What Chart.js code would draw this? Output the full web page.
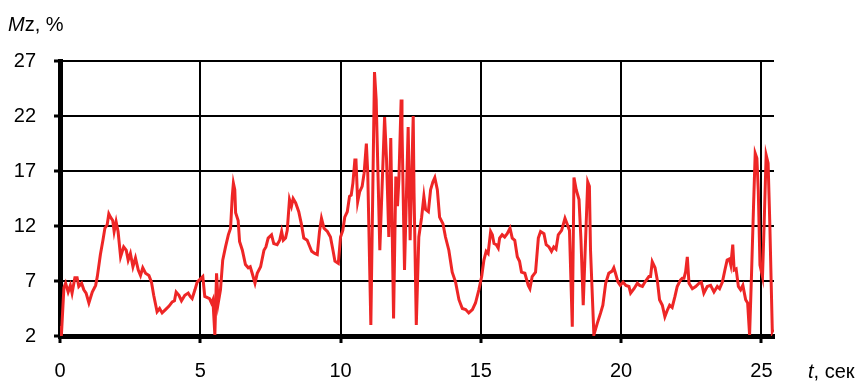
<!DOCTYPE html>
<html>
<head>
<meta charset="utf-8">
<title>Mz, %</title>
<script src="https://cdn.jsdelivr.net/npm/chart.js@4/dist/chart.umd.min.js"></script>
<style>
  html, body { margin: 0; padding: 0; background: #ffffff; }
  #wrap { position: relative; width: 863px; height: 381px; }
</style>
</head>
<body>
<div id="wrap"><canvas id="chart" width="863" height="381"></canvas></div>
<script>
// Time, seconds
const timeSec = [
  0.00, 0.05, 0.14, 0.20, 0.29, 0.37, 0.43, 0.53, 0.61, 0.67, 0.77, 0.85, 0.93, 1.03, 1.15, 1.27, 1.33, 1.44, 1.53, 1.60,
  1.68, 1.74, 1.80, 1.88, 1.93, 2.00, 2.07, 2.16, 2.27, 2.36, 2.43, 2.51, 2.60, 2.69, 2.79, 2.87, 2.95, 3.05, 3.17, 3.26,
  3.34, 3.46, 3.55, 3.64, 3.76, 3.88, 4.00, 4.08, 4.14, 4.24, 4.33, 4.45, 4.57, 4.64, 4.71, 4.81, 4.89, 4.97, 5.09, 5.16,
  5.33, 5.40, 5.45, 5.52, 5.58, 5.64, 5.72, 5.80, 5.90, 6.00, 6.08, 6.14, 6.18, 6.23, 6.26, 6.35, 6.40, 6.50, 6.61, 6.71,
  6.78, 6.85, 6.95, 7.03, 7.15, 7.27, 7.34, 7.42, 7.54, 7.62, 7.74, 7.83, 7.90, 7.96, 8.04, 8.10, 8.18, 8.25, 8.31, 8.40,
  8.51, 8.61, 8.69, 8.81, 8.89, 8.97, 9.08, 9.17, 9.25, 9.32, 9.41, 9.53, 9.64, 9.73, 9.80, 9.92, 10.00, 10.08, 10.15, 10.24,
  10.32, 10.38, 10.44, 10.51, 10.55, 10.61, 10.68, 10.77, 10.84, 10.92, 10.97, 11.08, 11.21, 11.27, 11.40, 11.57, 11.64, 11.72, 11.79, 11.89,
  11.97, 12.03, 12.08, 12.16, 12.19, 12.28, 12.41, 12.48, 12.59, 12.62, 12.70, 12.79, 12.89, 12.97, 13.03, 13.13, 13.21, 13.29, 13.36, 13.45,
  13.53, 13.65, 13.74, 13.86, 13.98, 14.10, 14.22, 14.34, 14.46, 14.57, 14.70, 14.81, 14.93, 15.03, 15.11, 15.19, 15.26, 15.35, 15.41, 15.47,
  15.55, 15.62, 15.67, 15.76, 15.85, 15.94, 16.04, 16.12, 16.21, 16.30, 16.38, 16.45, 16.57, 16.69, 16.75, 16.83, 16.95, 17.05, 17.13, 17.25,
  17.33, 17.43, 17.52, 17.60, 17.68, 17.76, 17.88, 18.00, 18.09, 18.16, 18.26, 18.32, 18.40, 18.50, 18.57, 18.65, 18.72, 18.81, 18.87, 18.91,
  19.03, 19.15, 19.27, 19.35, 19.45, 19.56, 19.68, 19.74, 19.80, 19.89, 19.97, 20.07, 20.17, 20.28, 20.34, 20.46, 20.58, 20.66, 20.76, 20.85,
  20.99, 21.05, 21.11, 21.21, 21.29, 21.37, 21.47, 21.56, 21.64, 21.73, 21.82, 21.92, 22.00, 22.12, 22.18, 22.24, 22.30, 22.36, 22.42, 22.54,
  22.66, 22.78, 22.86, 22.95, 23.07, 23.19, 23.31, 23.43, 23.51, 23.61, 23.70, 23.78, 23.86, 23.91, 23.98, 24.03, 24.10, 24.18, 24.26, 24.34,
  24.44, 24.51, 24.58, 24.65, 24.72, 24.78, 24.84, 24.89, 24.95, 25.04, 25.10, 25.17, 25.24, 25.30, 25.39, 25.43
];

// Mz, %
const mzPercent = [
  2.9, 2.1, 6.4, 6.8, 6.0, 6.6, 5.9, 7.3, 7.3, 6.5, 6.8, 6.2, 5.9, 5.0, 6.0, 6.6, 7.4, 9.4, 10.7, 11.8,
  12.1, 13.1, 12.8, 12.5, 11.5, 12.4, 11.5, 9.2, 10.1, 9.8, 8.9, 9.5, 8.3, 9.1, 8.0, 7.5, 8.2, 7.7, 7.5, 6.9,
  5.7, 4.2, 4.5, 4.1, 4.4, 4.7, 5.1, 5.2, 6.0, 5.7, 5.2, 5.7, 5.9, 5.6, 5.4, 6.2, 6.9, 7.1, 7.4, 5.6,
  5.4, 5.0, 5.3, 2.1, 7.7, 5.0, 6.2, 8.9, 10.1, 11.2, 11.8, 14.7, 15.9, 15.3, 13.2, 12.5, 10.6, 9.8, 8.5, 8.2,
  8.3, 7.7, 6.8, 7.7, 8.3, 9.8, 10.1, 10.9, 11.2, 10.4, 10.3, 10.7, 11.5, 10.7, 10.9, 11.6, 14.4, 13.8, 14.5, 14.1,
  13.3, 12.1, 10.9, 10.7, 10.2, 9.7, 9.5, 9.4, 11.5, 12.7, 11.8, 11.5, 11.0, 9.8, 8.8, 8.6, 11.0, 11.6, 12.8, 13.3,
  14.7, 14.8, 15.9, 18.0, 18.0, 14.2, 15.1, 15.6, 16.8, 19.5, 16.8, 3.0, 26.0, 23.5, 9.8, 21.9, 18.0, 11.0, 20.0, 3.6,
  16.5, 13.8, 16.3, 23.5, 21.0, 8.0, 21.0, 10.7, 22.0, 15.0, 3.0, 11.0, 12.8, 14.7, 13.5, 13.3, 15.3, 16.0, 16.4, 15.3,
  12.8, 12.2, 11.0, 9.8, 7.8, 6.9, 5.3, 4.5, 4.4, 4.1, 4.4, 5.0, 6.2, 7.4, 8.9, 9.7, 9.5, 11.5, 11.2, 10.4,
  10.3, 10.0, 10.9, 11.2, 11.0, 11.3, 11.8, 10.9, 10.7, 9.2, 8.8, 7.8, 7.7, 6.6, 6.3, 7.4, 7.8, 10.9, 11.5, 11.3,
  10.3, 10.1, 9.7, 10.1, 9.9, 11.2, 11.6, 12.7, 12.1, 11.6, 2.85, 16.4, 15.3, 14.4, 10.7, 4.8, 9.8, 16.0, 15.6, 9.8,
  2.1, 3.15, 4.1, 4.8, 6.8, 7.7, 7.9, 8.2, 7.7, 6.9, 6.6, 6.9, 6.6, 6.5, 5.9, 6.3, 6.8, 6.6, 6.5, 6.9,
  7.4, 7.4, 8.75, 8.2, 7.1, 5.3, 4.8, 3.75, 4.3, 4.8, 4.6, 5.6, 6.5, 7.1, 7.25, 7.25, 7.85, 9.2, 6.8, 6.3,
  6.5, 6.8, 6.9, 5.9, 6.5, 6.6, 6.0, 6.5, 6.3, 6.9, 8.0, 8.9, 9.0, 8.45, 10.3, 8.0, 8.1, 6.5, 6.2, 6.6,
  5.3, 5.0, 2.1, 7.7, 13.75, 18.6, 18.15, 15.2, 8.45, 7.4, 12.3, 18.45, 17.7, 12.3, 2.4, 2.6
];

// Axis ranges and tick labels
const xRange = [0, 25.45];
const xTickValues = [0, 5, 10, 15, 20, 25];
const yTickValues = [2, 7, 12, 17, 22, 27];

const FONT = "'Liberation Sans', Arial, Helvetica, sans-serif";
const FONT_SIZE = 20;

// Axis captions: "Mz, %" above the value axis, "t, сек" after the time axis
const axisCaptions = {
  id: 'axisCaptions',
  afterDraw(chart) {
    const ctx = chart.ctx;
    ctx.save();
    ctx.fillStyle = '#000';
    ctx.textBaseline = 'alphabetic';
    ctx.textAlign = 'left';

    let x = 8;
    const yTop = 31;
    ctx.font = 'italic ' + FONT_SIZE + 'px ' + FONT;
    ctx.fillText('M', x, yTop);
    x += ctx.measureText('M').width;
    ctx.font = FONT_SIZE + 'px ' + FONT;
    ctx.fillText('z, %', x, yTop);

    let xb = 808;
    const yBottom = 378;
    ctx.font = 'italic ' + FONT_SIZE + 'px ' + FONT;
    ctx.fillText('t', xb, yBottom);
    xb += ctx.measureText('t').width;
    ctx.font = FONT_SIZE + 'px ' + FONT;
    ctx.fillText(', сек', xb, yBottom);
    ctx.restore();
  }
};

const points = timeSec.map((t, i) => ({ x: t, y: mzPercent[i] }));

new Chart(document.getElementById('chart'), {
  type: 'line',
  data: {
    datasets: [{
      data: points,
      borderColor: '#ee2626',
      borderWidth: 3,
      pointRadius: 0,
      tension: 0,
      fill: false
    }]
  },
  options: {
    responsive: false,
    animation: false,
    devicePixelRatio: 1,
    layout: { padding: { left: 0, right: 89, top: 61, bottom: 0 } },
    plugins: {
      legend: { display: false },
      tooltip: { enabled: false },
      title: { display: false }
    },
    scales: {
      x: {
        type: 'linear',
        min: xRange[0],
        max: xRange[1],
        afterFit(scale) { scale.height = 45; },
        afterBuildTicks(scale) { scale.ticks = xTickValues.map(v => ({ value: v })); },
        ticks: {
          autoSkip: false,
          maxRotation: 0,
          padding: 16,
          color: '#000',
          font: { family: FONT, size: FONT_SIZE },
          callback: v => String(v)
        },
        grid: {
          color: '#000',
          lineWidth: 2,
          drawTicks: true,
          tickLength: 7,
          tickWidth: 3,
          tickColor: '#000'
        },
        border: { display: true, color: '#000', width: 5 }
      },
      y: {
        type: 'linear',
        min: yTickValues[0],
        max: yTickValues[yTickValues.length - 1],
        afterFit(scale) { scale.width = 60; },
        afterBuildTicks(scale) { scale.ticks = yTickValues.map(v => ({ value: v })); },
        ticks: {
          autoSkip: false,
          padding: 18,
          color: '#000',
          font: { family: FONT, size: FONT_SIZE },
          callback: v => String(v)
        },
        grid: {
          color: '#000',
          lineWidth: 2,
          drawTicks: true,
          tickLength: 6,
          tickWidth: 3,
          tickColor: '#000'
        },
        border: { display: true, color: '#000', width: 5 }
      }
    }
  },
  plugins: [axisCaptions]
});
</script>
</body>
</html>
